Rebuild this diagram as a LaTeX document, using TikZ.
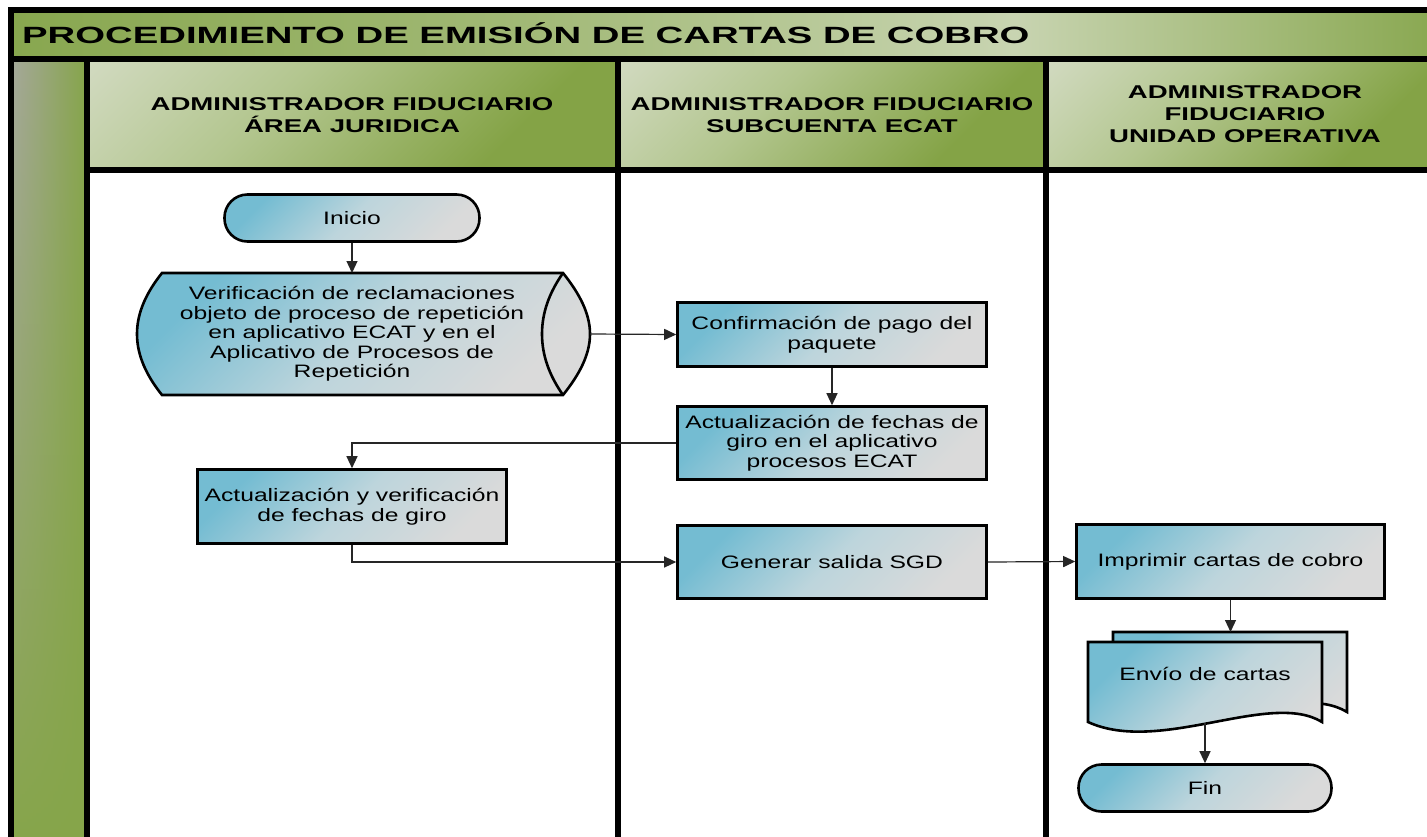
\documentclass[tikz,border=0pt]{standalone}
\usepackage{fontspec}
\setmainfont{Liberation Sans}
\newfontfamily\titlefont[FakeStretch=1.63]{Liberation Sans}
\newfontfamily\hdrfont[FakeStretch=1.49]{Liberation Sans}
\newfontfamily\bodyfont[FakeStretch=1.37]{Liberation Sans}
\usetikzlibrary{arrows.meta,fadings}
\definecolor{nblue}{HTML}{74BCD2}
\definecolor{nmid}{HTML}{BDD5DC}
\definecolor{ngray}{HTML}{DADADA}
\definecolor{hlight}{HTML}{E4E6DE}
\definecolor{hmid}{HTML}{B3C68F}
\definecolor{hgreen}{HTML}{84A346}
\definecolor{tgreen}{HTML}{88A74F}
\definecolor{tlight}{HTML}{C8D4B1}
\definecolor{cgray}{HTML}{A6A99C}
\definecolor{cgreen}{HTML}{86A54A}
\pgfdeclareverticalshading{hdrshade}{100bp}{color(0bp)=(hgreen); color(30bp)=(hgreen); color(60bp)=(hmid); color(100bp)=(hlight)}
\pgfdeclarehorizontalshading{titleshade}{100bp}{color(0bp)=(tgreen); color(25bp)=(tgreen); color(43bp)=(tgreen!60!tlight); color(60bp)=(tlight); color(75bp)=(tgreen); color(100bp)=(tgreen)}
\tikzfading[name=colfade, top color=transparent!0, bottom color=transparent!100]
\tikzset{
  nodeshade/.style={top color=nblue, bottom color=ngray, middle color=nmid, shading angle=45},
  proc/.style={draw=black, line width=2.6pt, rectangle, align=center, inner sep=0pt,
    font=\bodyfont\fontsize{18}{19.5}\selectfont, nodeshade},
  term/.style={proc, rounded corners=23pt},
  bodytext/.style={align=center, inner sep=0pt, font=\bodyfont\fontsize{18}{19.5}\selectfont},
  hdr/.style={align=center, inner sep=0pt, font=\hdrfont\bfseries\fontsize{18.5}{22}\selectfont},
  conn/.style={draw=black!85, line width=1.2pt, -{Triangle[length=12pt,width=11pt]}},
  frame/.style={line width=5.5pt, line cap=rect},
  ghost/.style={inner sep=0pt, outer sep=0pt},
}
\begin{document}
\begin{tikzpicture}[x=1pt,y=-1pt]
\useasboundingbox (0,0) rectangle (1427,836);
\clip (0,0) rectangle (1427,836);
\fill[white] (0,0) rectangle (1427,836);
% title bar
\shade[shading=titleshade] (11,10) rectangle (1445,59);
% left column
\fill[cgreen] (11,59) rectangle (87,850);
\shade[left color=cgray, right color=cgreen, path fading=colfade] (11,59) rectangle (87,850);
% headers
\shade[shading=hdrshade, shading angle=45] (87,59) rectangle (618,170);
\shade[shading=hdrshade, shading angle=45] (618,59) rectangle (1046,170);
\shade[shading=hdrshade, shading angle=45] (1046,59) rectangle (1445,170);
% frame lines
\draw[frame] (11,850) -- (11,10) -- (1445,10);
\draw[frame] (11,59) -- (1445,59);
\draw[frame] (87,59) -- (87,850);
\draw[frame] (87,170) -- (1445,170);
\draw[frame] (618,59) -- (618,850);
\draw[frame] (1046,59) -- (1046,850);
% titles
\node[anchor=base west, inner sep=0pt, font=\titlefont\bfseries\fontsize{23.5}{28}\selectfont] (title) at (22,43) {PROCEDIMIENTO DE EMISIÓN DE CARTAS DE COBRO};
\node[hdr] (h1) at (352,115) {ADMINISTRADOR FIDUCIARIO\\ÁREA JURIDICA};
\node[hdr] (h2) at (832,115) {ADMINISTRADOR FIDUCIARIO\\SUBCUENTA ECAT};
\node[hdr] (h3) at (1245,114) {ADMINISTRADOR\\FIDUCIARIO\\UNIDAD OPERATIVA};
% stored-data shape
\draw[line width=2.6pt, nodeshade] (162,273) -- (563,273) .. controls (579,293) and (590,313) .. (590,334) .. controls (590,355) and (579,375) .. (563,395) -- (162,395) .. controls (146,375) and (137,355) .. (137,334) .. controls (137,313) and (146,293) .. (162,273) -- cycle;
\draw[line width=2.6pt] (563,273) .. controls (549,293) and (542,313) .. (542,334) .. controls (542,355) and (549,375) .. (563,395);
\node[ghost, minimum width=453pt, minimum height=122pt] (verif) at (363.5,334) {};
\node[bodytext] (veriftext) at (352,334) {Verificación de reclamaciones\\objeto de proceso de repetición\\en aplicativo ECAT y en el\\Aplicativo de Procesos de\\Repetición};
% process nodes
\node[term, minimum width=255pt, minimum height=47pt] (inicio) at (352,218) {Inicio};
\node[proc, minimum width=309pt, minimum height=64pt] (conf) at (832,334.5) {Confirmación de pago del\\paquete};
\node[proc, minimum width=309pt, minimum height=73pt] (actf) at (832,443) {Actualización de fechas de\\giro en el aplicativo\\procesos ECAT};
\node[proc, minimum width=309pt, minimum height=74pt] (actv) at (352,506.5) {Actualización y verificación\\de fechas de giro};
\node[proc, minimum width=309pt, minimum height=73pt] (gen) at (832,562) {Generar salida SGD};
\node[proc, minimum width=308pt, minimum height=74pt] (impr) at (1230.5,561.5) {Imprimir cartas de cobro};
% multi-document
\draw[line width=2.6pt, nodeshade] (1113,632) -- (1347,632) -- (1347,712) .. controls (1295,680) and (1185,745) .. (1113,712) -- cycle;
\draw[line width=2.6pt, nodeshade] (1088,642) -- (1322,642) -- (1322,722) .. controls (1270,690) and (1160,755) .. (1088,722) -- cycle;
\node[ghost, minimum width=234pt, minimum height=80pt] (envioback) at (1230,672) {};
\node[ghost, minimum width=234pt, minimum height=81pt] (enviodoc) at (1205,682.5) {};
\node[bodytext] (envio) at (1205,674) {Envío de cartas};
\node[term, minimum width=253pt, minimum height=47pt] (fin) at (1205,788) {Fin};
% connectors
\draw[conn] (inicio.south) -- (inicio.south |- verif.north);
\draw[conn] (verif.east) -- (conf.west);
\draw[conn] (conf.south) -- (actf.north);
\draw[conn] (actf.west) -| (actv.north);
\draw[conn] (actv.south) |- (gen.west);
\draw[conn] (gen.east) -- (impr.west);
\draw[conn] (impr.south) -- (impr.south |- envioback.north);
\draw[conn] (enviodoc.south) -- (fin.north);
\end{tikzpicture}
\end{document}
